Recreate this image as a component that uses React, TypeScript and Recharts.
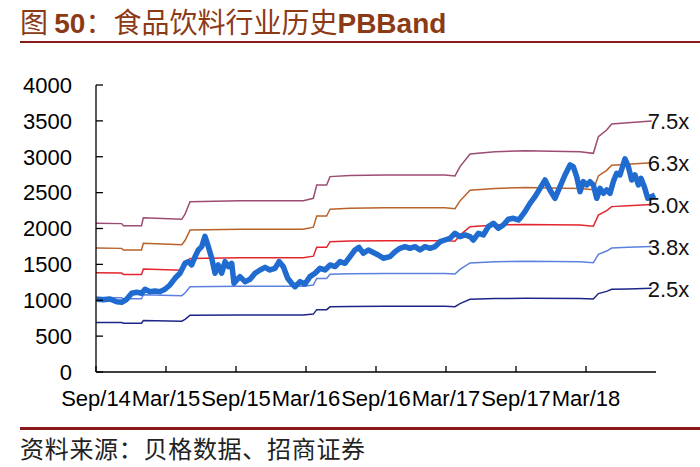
import React from 'react';
import { LineChart, Line, XAxis, YAxis, LabelList } from 'recharts';

// months since Sep/14
const X_TICKS = [0, 6, 12, 18, 24, 30, 36, 42];
const X_LABELS = ['Sep/14', 'Mar/15', 'Sep/15', 'Mar/16', 'Sep/16', 'Mar/17', 'Sep/17', 'Mar/18'];
const Y_TICKS = [0, 500, 1000, 1500, 2000, 2500, 3000, 3500, 4000];

// PB band lines (step-like, follow book value)
const BAND_T = [0, 2.2, 2.35, 3.9, 4.06, 7.35, 7.63, 8.06, 12.34, 17.77, 18.63, 18.92, 19.77, 20.06, 21.77, 24.77, 29.91, 30.77, 31.2, 32.06, 34.2, 36.77, 41.49, 42.63, 43.06, 43.77, 44.2, 45.6, 47.63];
const PB_75 = [2073, 2068, 2040, 2040, 2151, 2128, 2200, 2374, 2388, 2388, 2421, 2607, 2607, 2723, 2737, 2746, 2746, 2732, 2862, 3039, 3071, 3085, 3071, 3048, 3280, 3373, 3457, 3475, 3499];
const PB_63 = [1728, 1723, 1700, 1700, 1793, 1773, 1833, 1978, 1990, 1990, 2018, 2173, 2173, 2269, 2281, 2288, 2288, 2277, 2385, 2533, 2559, 2571, 2559, 2540, 2733, 2811, 2881, 2896, 2916];
const PB_50 = [1382, 1379, 1360, 1360, 1434, 1419, 1467, 1583, 1592, 1592, 1614, 1738, 1738, 1816, 1825, 1831, 1831, 1822, 1908, 2026, 2048, 2057, 2048, 2032, 2187, 2249, 2305, 2317, 2333];
const PB_38 = [1037, 1034, 1020, 1020, 1076, 1064, 1100, 1187, 1194, 1194, 1211, 1304, 1304, 1362, 1368, 1373, 1373, 1366, 1431, 1520, 1536, 1542, 1536, 1524, 1640, 1686, 1728, 1737, 1749];
const PB_25 = [691, 689, 680, 680, 717, 709, 733, 791, 796, 796, 807, 869, 869, 908, 912, 915, 915, 911, 954, 1013, 1024, 1028, 1024, 1016, 1093, 1124, 1152, 1158, 1166];

// industry index
const PRICE_T = [0.06, 0.63, 1.2, 1.77, 2.2, 2.63, 3.06, 3.49, 3.92, 4.2, 4.63, 5.06, 5.49, 5.91, 6.34, 6.77, 7.2, 7.63, 7.91, 8.2, 8.49, 8.77, 9.06, 9.34, 9.63, 9.92, 10.2, 10.48, 10.77, 11.06, 11.34, 11.63, 11.83, 12.2, 12.34, 12.77, 13.2, 13.63, 14.06, 14.49, 14.91, 15.34, 15.69, 16.05, 16.43, 16.77, 17.06, 17.49, 17.91, 18.34, 18.77, 19.2, 19.63, 20.06, 20.49, 20.91, 21.34, 21.77, 22.2, 22.54, 22.91, 23.34, 23.77, 24.2, 24.63, 25.2, 25.63, 26.06, 26.49, 26.91, 27.34, 27.77, 28.2, 28.63, 29.06, 29.49, 29.91, 30.34, 30.77, 31.2, 31.63, 32.06, 32.34, 32.77, 33.2, 33.63, 34.06, 34.49, 34.91, 35.34, 35.77, 36.2, 36.34, 36.77, 37.2, 37.63, 38.06, 38.49, 38.91, 39.34, 39.77, 40.2, 40.63, 40.91, 41.2, 41.49, 41.77, 42.06, 42.34, 42.63, 42.92, 43.2, 43.49, 43.77, 44.06, 44.34, 44.63, 44.91, 45.34, 45.63, 45.92, 46.2, 46.49, 46.71, 47.0, 47.29, 47.63, 47.91];
const PRICE_V = [1013, 1008, 1017, 980, 971, 1013, 1097, 1111, 1097, 1153, 1120, 1130, 1120, 1153, 1213, 1306, 1376, 1515, 1538, 1492, 1607, 1701, 1747, 1890, 1747, 1585, 1376, 1492, 1376, 1538, 1469, 1515, 1236, 1306, 1329, 1259, 1292, 1376, 1422, 1459, 1422, 1445, 1538, 1469, 1306, 1236, 1189, 1259, 1227, 1329, 1376, 1445, 1422, 1492, 1469, 1538, 1515, 1607, 1701, 1738, 1655, 1701, 1665, 1631, 1585, 1608, 1677, 1724, 1747, 1724, 1747, 1701, 1747, 1724, 1747, 1816, 1840, 1863, 1933, 1886, 1910, 1886, 1840, 1933, 1910, 2026, 2073, 2003, 2049, 2128, 2142, 2119, 2142, 2235, 2351, 2444, 2560, 2676, 2537, 2421, 2583, 2746, 2886, 2863, 2723, 2514, 2653, 2607, 2653, 2607, 2421, 2560, 2491, 2537, 2491, 2653, 2769, 2746, 2970, 2863, 2676, 2746, 2607, 2700, 2583, 2421, 2444, 2467];

const BANDS = [
  { key: 'b75', name: '7.5x', values: PB_75, color: '#9c4b72' },
  { key: 'b63', name: '6.3x', values: PB_63, color: '#b9622a' },
  { key: 'b50', name: '5.0x', values: PB_50, color: '#e3262d' },
  { key: 'b38', name: '3.8x', values: PB_38, color: '#5b80de' },
  { key: 'b25', name: '2.5x', values: PB_25, color: '#1f2488' },
];

const bandData = BAND_T.map((t, i) => {
  const row: Record<string, number> = { t };
  BANDS.forEach((b) => (row[b.key] = b.values[i]));
  return row;
});
const priceData = PRICE_T.map((t, i) => ({ t, v: PRICE_V[i] }));

const ARIAL = '"Liberation Sans", Arial, sans-serif';
const CJK = '"Noto Sans CJK SC", sans-serif';
const TITLE_COLOR = '#8c3a16';
const RULE_COLOR = '#8b1a1a';

function endLabel(text: string) {
  return (props: any) => {
    if (props.index !== BAND_T.length - 1) return null;
    return (
      <text
        x={props.x - 4}
        y={props.y + 1}
        dominantBaseline="central"
        fontSize={22}
        fontFamily={ARIAL}
        fill="#111"
      >
        {text}
      </text>
    );
  };
}

export default function App() {
  return (
    <div
      style={{
        position: 'absolute',
        left: 0,
        top: 0,
        width: 700,
        height: 467,
        background: '#fff',
        overflow: 'hidden',
      }}
    >
      <div
        style={{
          position: 'absolute',
          left: 20,
          top: 6,
          fontSize: 28,
          lineHeight: '30px',
          color: TITLE_COLOR,
          fontFamily: CJK,
          whiteSpace: 'nowrap',
        }}
      >
        图 <span style={{ fontFamily: ARIAL, fontWeight: 'bold' }}>50</span>：食品饮料行业历史
        <span style={{ fontFamily: ARIAL, fontWeight: 'bold' }}>PBBand</span>
      </div>
      <div style={{ position: 'absolute', left: 20, top: 41, width: 680, height: 2, background: RULE_COLOR }} />

      <div style={{ position: 'absolute', left: 0, top: 0 }}>
        <LineChart width={700} height={467} margin={{ top: 85, right: 44, bottom: 65, left: 36 }}>
          <XAxis
            dataKey="t"
            type="number"
            domain={[0, 48]}
            ticks={X_TICKS}
            interval={0}
            tickFormatter={(v: number) => X_LABELS[Math.round(v / 6)] ?? ''}
            height={30}
            tickSize={-6}
            tickMargin={24}
            axisLine={{ stroke: '#000', strokeWidth: 1.3 }}
            tickLine={{ stroke: '#000', strokeWidth: 1.3 }}
            tick={{ fontSize: 22, fill: '#000', fontFamily: ARIAL }}
            allowDataOverflow
          />
          <YAxis
            type="number"
            domain={[0, 4000]}
            ticks={Y_TICKS}
            interval={0}
            width={60}
            tickSize={-7}
            tickMargin={31}
            axisLine={{ stroke: '#000', strokeWidth: 1.3 }}
            tickLine={{ stroke: '#000', strokeWidth: 1.3 }}
            tick={{ fontSize: 22, fill: '#000', fontFamily: ARIAL }}
          />
          {BANDS.map((b) => (
            <Line
              key={b.key}
              data={bandData}
              dataKey={b.key}
              type="linear"
              stroke={b.color}
              strokeWidth={1.5}
              dot={false}
              isAnimationActive={false}
            >
              <LabelList dataKey={b.key} content={endLabel(b.name)} />
            </Line>
          ))}
          <Line
            data={priceData}
            dataKey="v"
            type="linear"
            stroke="#1f6bcf"
            strokeWidth={5.5}
            strokeLinejoin="round"
            dot={false}
            isAnimationActive={false}
          />
        </LineChart>
      </div>

      <div style={{ position: 'absolute', left: 20, top: 427, width: 680, height: 3, background: RULE_COLOR }} />
      <div
        style={{
          position: 'absolute',
          left: 20,
          top: 434,
          fontSize: 24,
          lineHeight: '28px',
          letterSpacing: 0.7,
          color: '#222',
          fontFamily: CJK,
          whiteSpace: 'nowrap',
        }}
      >
        资料来源：贝格数据、招商证券
      </div>
    </div>
  );
}
